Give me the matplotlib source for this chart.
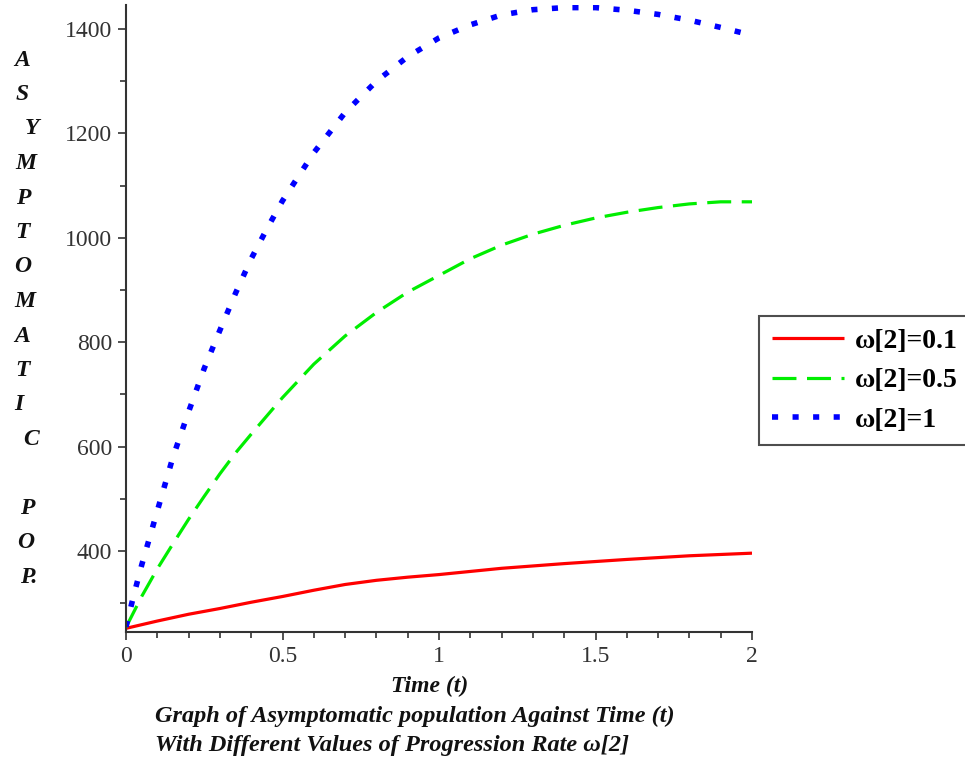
import matplotlib
matplotlib.use('Agg')
import matplotlib.pyplot as plt
from matplotlib.ticker import MultipleLocator

# ---- data ----
t_red = [0, 0.1, 0.2, 0.3, 0.4, 0.5, 0.6, 0.7, 0.8, 0.9, 1.0, 1.2, 1.4, 1.6, 1.8, 2.0]
red = [252, 266, 279, 290, 302, 313, 325, 336, 344, 350, 355, 367, 376, 384, 391, 396]

t_green = [0, 0.05, 0.1, 0.15, 0.2, 0.25, 0.3, 0.35, 0.4, 0.45, 0.5, 0.6, 0.7, 0.8,
           0.9, 1.0, 1.1, 1.2, 1.3, 1.4, 1.5, 1.6, 1.7, 1.8, 1.9, 2.0]
green = [254, 313, 366, 414, 461, 505, 548, 588, 624, 659, 694, 758, 812, 857,
         896, 928, 960, 986, 1007, 1024, 1038, 1049, 1058, 1065, 1069, 1069]

t_blue = [0, 0.025, 0.05, 0.1, 0.15, 0.2, 0.25, 0.3, 0.35, 0.4, 0.45, 0.5, 0.6, 0.7, 0.8,
          0.9, 1.0, 1.1, 1.2, 1.3, 1.4, 1.5, 1.6, 1.7, 1.8, 1.9, 2.0]
blue = [255, 316, 373, 477, 580, 667, 750, 823, 894, 960, 1017, 1071, 1163, 1240, 1300,
        1347, 1383, 1408, 1427, 1437, 1441, 1441, 1436, 1428, 1417, 1403, 1388]

labels = ['\u03c9[2]=0.1', '\u03c9[2]=0.5', '\u03c9[2]=1']
ylabel_letters = ['A', 'S', 'Y', 'M', 'P', 'T', 'O', 'M', 'A', 'T', 'I', 'C', '', 'P', 'O', 'P.']
ylabel_x = [22, 22, 32, 26, 23, 22, 23, 25, 22, 22, 19, 31, 0, 27, 26, 29]
xlabel = 'Time (t)'
caption1 = 'Graph of Asymptomatic population Against Time (t)'
caption2 = 'With Different Values of Progression Rate \u03c9[2]'

# ---- figure ----
W, H = 965, 765
fig = plt.figure(figsize=(W / 100, H / 100), dpi=100)
fig.patch.set_facecolor('white')
ax = fig.add_axes([126 / W, 1 - 632 / H, (752 - 126) / W, (632 - 5) / H])

serif = ['Liberation Serif', 'DejaVu Serif']

ax.plot(t_red, red, color='#ff0000', lw=2.3, label=labels[0], solid_capstyle='butt')
ax.plot(t_green, green, color='#00ee00', lw=2.3, dashes=(7.5, 3.3), label=labels[1])
ax.plot(t_blue, blue, color='#0000ff', lw=4.0, dashes=(1.1, 2.6), label=labels[2])

ax.set_xlim(0, 2)
ax.set_ylim(245, 1446)
ax.set_xticks([0, 0.5, 1, 1.5, 2])
ax.set_xticklabels(['0', '0.5', '1', '1.5', '2'])
ax.set_yticks([400, 600, 800, 1000, 1200, 1400])
ax.xaxis.set_minor_locator(MultipleLocator(0.1))
ax.yaxis.set_minor_locator(MultipleLocator(100))

for s in ['top', 'right']:
    ax.spines[s].set_visible(False)
for s in ['left', 'bottom']:
    ax.spines[s].set_color('#333333')
    ax.spines[s].set_linewidth(1.5)

ax.tick_params(which='major', direction='out', length=6, width=1.2, color='#333333',
               labelsize=17, labelcolor='#333333', pad=4)
ax.tick_params(which='minor', direction='out', length=4, width=1.2, color='#333333')
for lab in ax.get_xticklabels() + ax.get_yticklabels():
    lab.set_family(serif)

leg = ax.legend(loc='upper left', bbox_to_anchor=(759 / W, 1 - 316 / H),
                bbox_transform=fig.transFigure, borderaxespad=0,
                prop={'family': serif, 'weight': 'bold', 'size': 20},
                frameon=True, fancybox=False, shadow=False,
                handlelength=2.6, handletextpad=0.4, labelspacing=0.5,
                borderpad=0.45)
leg.get_frame().set_edgecolor('#222222')
leg.get_frame().set_linewidth(1.5)

# stacked y label letters
for i, ch in enumerate(ylabel_letters):
    if ch:
        fig.text(ylabel_x[i] / W, 1 - (60 + i * 34.5) / H, ch, ha='center', va='center',
                 family=serif, weight='bold', style='italic', fontsize=17, color='#111111')

fig.text(430 / W, 1 - 686 / H, xlabel, ha='center', va='center', family=serif,
         weight='bold', style='italic', fontsize=17, color='#111111')
fig.text(155 / W, 1 - 716 / H, caption1, ha='left', va='center', family=serif,
         weight='bold', style='italic', fontsize=17.5, color='#111111')
fig.text(155 / W, 1 - 745 / H, caption2, ha='left', va='center', family=serif,
         weight='bold', style='italic', fontsize=17.5, color='#111111')

fig.savefig('out.png', dpi=100)
